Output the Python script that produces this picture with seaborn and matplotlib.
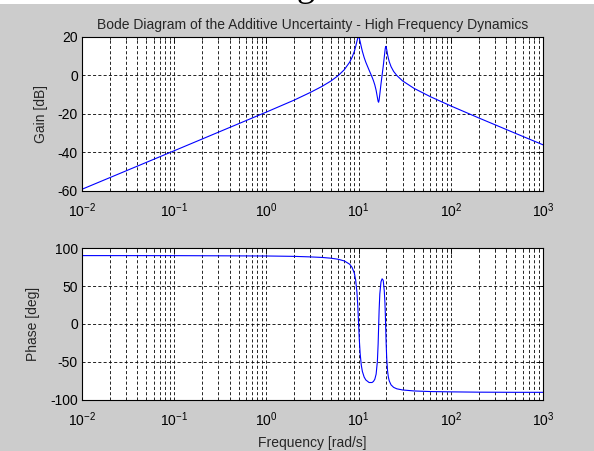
import matplotlib
matplotlib.use("Agg")
import matplotlib.pyplot as plt
import matplotlib.ticker as mticker
import matplotlib.patches as mpatches
import seaborn as sns
import pandas as pd

# ---- data ----
freq = [0.01, 0.1, 1, 2, 3, 4, 5, 6, 7, 8, 8.5, 9, 9.3, 9.6, 9.8, 10, 10.2, 10.4,
        10.7, 11, 11.5, 12, 13, 14, 14.5, 15, 15.5, 16, 16.3, 16.5, 16.7, 17,
        17.5, 18, 18.5, 19, 19.3, 19.5, 19.7, 19.9, 20.2, 20.6, 21, 21.5, 22.5,
        24, 26, 30, 40, 60, 100, 200, 500, 1000]
gain_db = [-59.1, -39.1, -19.0, -12.8, -8.8, -5.7, -2.9, -0.1, 3.0, 6.9, 9.4,
           12.6, 15.0, 17.8, 19.4, 20.0, 19.3, 17.6, 14.9, 12.5, 9.3, 6.8, 2.8,
           -0.8, -2.7, -4.9, -7.7, -11.4, -13.5, -13.9, -12.8, -9.7, -4.4, 0.2,
           4.7, 9.6, 12.5, 14.2, 15.1, 14.9, 13.4, 11.0, 9.1, 7.2, 4.6, 2.1,
           0.0, -2.8, -6.7, -11.0, -15.8, -22.0, -30.0, -36.0]
phase_deg = [90.0, 89.95, 89.5, 89.0, 88.3, 87.6, 86.6, 85.2, 83.0, 78.7, 74.5,
             66.7, 57.8, 41.7, 24.1, 0.9, -21.8, -38.8, -54.1, -62.5, -69.9,
             -73.7, -77.0, -77.0, -75.6, -72.7, -66.0, -49.0, -26.1, -4.0, 17.8,
             39.6, 55.5, 59.5, 57.5, 43.8, 28.9, 13.4, -5.5, -24.5, -45.6,
             -61.2, -69.3, -74.8, -80.1, -83.4, -85.3, -86.8, -88.1, -88.9,
             -89.3, -89.7, -89.9, -89.9]

title = "Bode Diagram of the Additive Uncertainty - High Frequency Dynamics"
gain_label = "Gain [dB]"
phase_label = "Phase [deg]"
freq_label = "Frequency [rad/s]"
gain_ticks = [-60, -40, -20, 0, 20]
phase_ticks = [-100, -50, 0, 50, 100]

df = pd.DataFrame({"freq": freq, "gain": gain_db, "phase": phase_deg})

sns.set_style("white")
plt.rcParams["font.family"] = ["Liberation Sans", "DejaVu Sans"]
plt.rcParams["mathtext.default"] = "regular"
plt.rcParams["axes.unicode_minus"] = False
plt.rcParams["lines.scale_dashes"] = False
FS = 10

fig = plt.figure(figsize=(5.94, 4.51), dpi=100, facecolor="#cccccc")

# cropped document strip at the very top of the reference
fig.patches.append(mpatches.Rectangle((0, 1 - 4 / 451), 1, 4 / 451, transform=fig.transFigure,
                                      facecolor="white", edgecolor="none", zorder=0))
fig.text(0.515, 1 + 4 / 451, "g", fontsize=26, family="Liberation Serif",
         ha="center", va="baseline", color="black")

ax1 = fig.add_axes([0.1380, 0.5765, 0.7761, 0.3415])
ax2 = fig.add_axes([0.1380, 0.1131, 0.7761, 0.3370])

sns.lineplot(data=df, x="freq", y="gain", ax=ax1, color="#0000ff", linewidth=0.8)
sns.lineplot(data=df, x="freq", y="phase", ax=ax2, color="#0000ff", linewidth=0.8)

for ax, yt, lab in ((ax1, gain_ticks, gain_label), (ax2, phase_ticks, phase_label)):
    ax.set_facecolor("white")
    ax.set_xscale("log")
    ax.set_xlim(1e-2, 1e3)
    ax.set_ylim(yt[0], yt[-1])
    ax.set_yticks(yt)
    ax.set_yticklabels([str(v) for v in yt])
    ax.xaxis.set_major_locator(mticker.LogLocator(base=10, numticks=10))
    ax.xaxis.set_minor_locator(mticker.LogLocator(base=10, subs=range(2, 10), numticks=20))
    ax.xaxis.set_major_formatter(mticker.LogFormatterMathtext())
    ax.xaxis.set_minor_formatter(mticker.NullFormatter())
    ax.set_axisbelow(True)
    ax.grid(True, which="major", axis="both", color="black", linestyle=(0, (2.2, 1.6)), linewidth=0.6)
    ax.grid(True, which="minor", axis="x", color="black", linestyle=(0, (2.2, 1.6)), linewidth=0.6)
    ax.tick_params(which="major", direction="in", length=4, width=0.6, top=True, right=True,
                   labelsize=FS, colors="black")
    ax.tick_params(which="minor", direction="in", length=2, width=0.6, top=True, right=True)
    ax.tick_params(axis="y", pad=3)
    ax.tick_params(axis="x", pad=7.5)
    for sp in ax.spines.values():
        sp.set_visible(True)
        sp.set_color("black")
        sp.set_linewidth(0.8)
    ax.set_ylabel(lab, fontsize=FS, labelpad=7)
    ax.set_xlabel("")

ax1.set_title(title, fontsize=FS, pad=6)
ax2.set_xlabel(freq_label, fontsize=FS, labelpad=5)

fig.savefig("out.png", dpi=100, facecolor=fig.get_facecolor())
